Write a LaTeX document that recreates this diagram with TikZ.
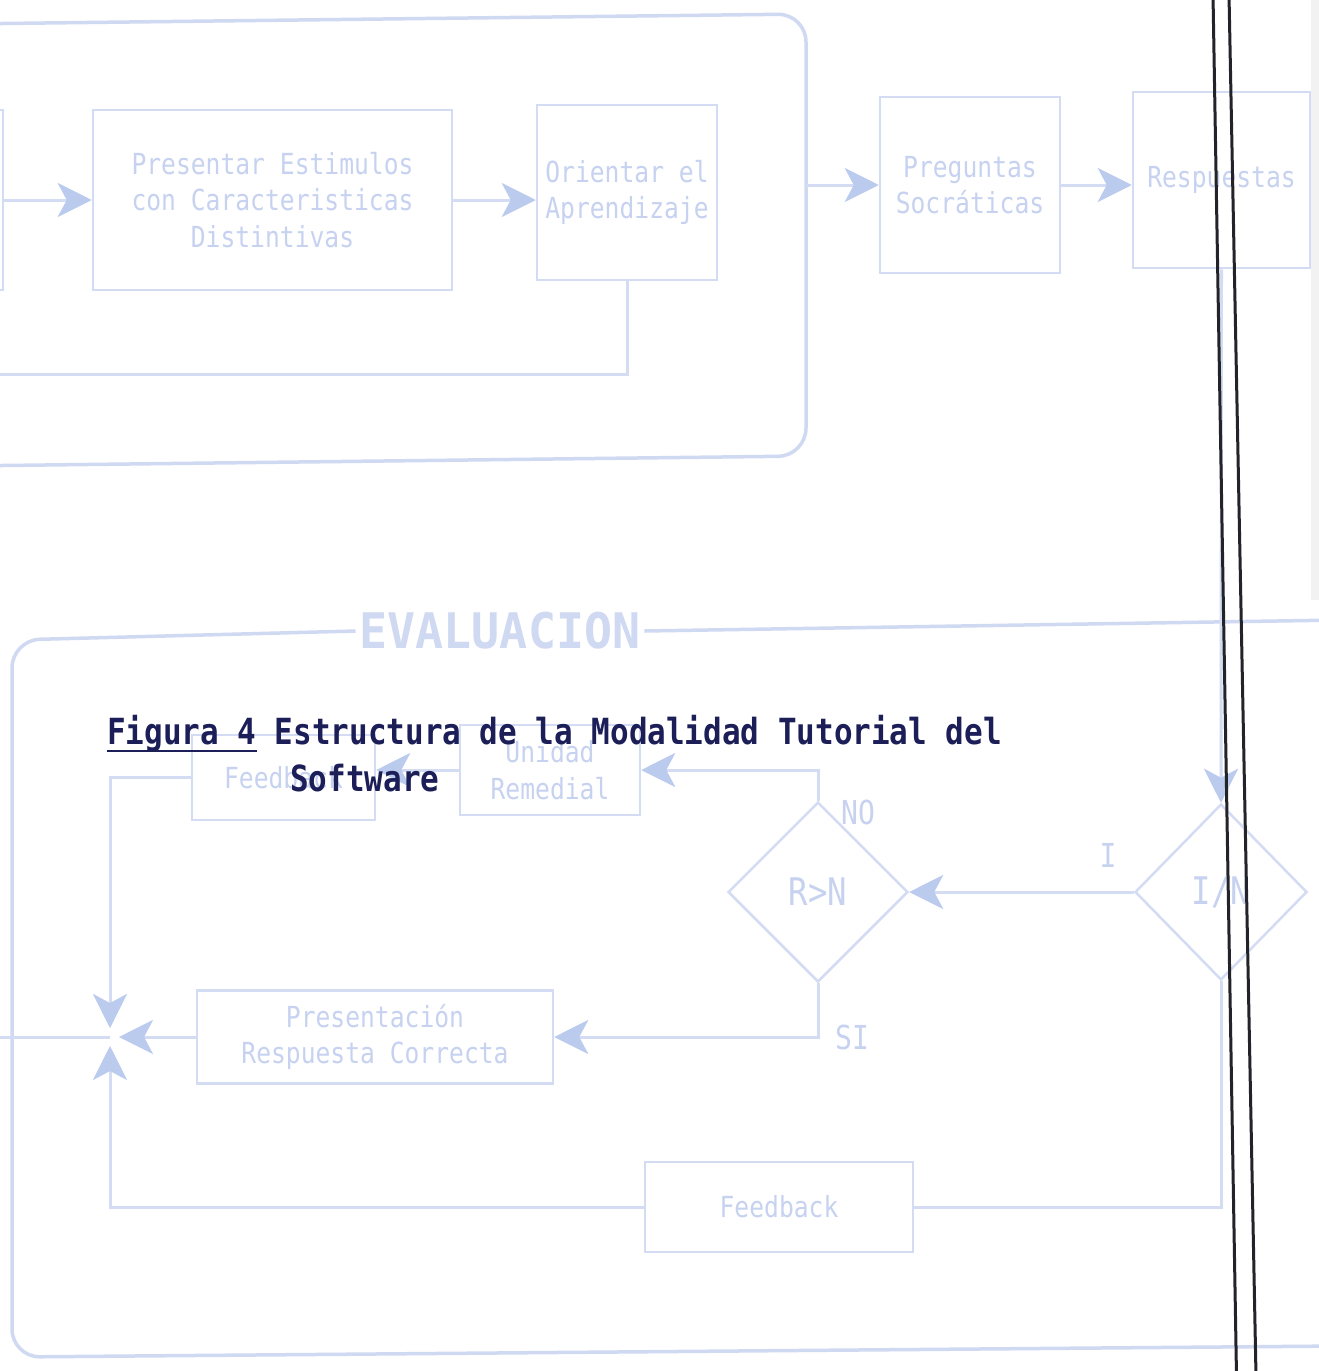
\documentclass[tikz,border=0pt]{standalone}
\usepackage{fontspec}
\usetikzlibrary{arrows.meta,shapes.geometric}
\newfontfamily\fadefam{DejaVu Sans Mono}[FakeStretch=0.85]
\newfontfamily\evalfam{DejaVu Sans Mono Bold}[FakeStretch=0.95]
\newfontfamily\capfam{DejaVu Sans Mono Bold}[FakeStretch=0.86]
\definecolor{linec}{RGB}{212,220,243}
\definecolor{textc}{RGB}{198,210,240}
\definecolor{arrowc}{RGB}{186,203,238}
\definecolor{framec}{RGB}{208,217,242}
\definecolor{capc}{RGB}{28,30,88}
\definecolor{blk}{RGB}{35,35,42}
\tikzset{
  fbox/.style={draw=linec, line width=2.5pt, text=textc, align=center, inner sep=0pt,
    font=\fadefam\fontsize{29}{36.5}\selectfont},
  dbox/.style={diamond, draw=linec, line width=2.5pt, text=textc, inner sep=0pt,
    font=\fadefam\fontsize{38}{40}\selectfont},
  conn/.style={draw=linec, line width=3pt},
  arr/.style={conn, -{Stealth[length=34pt,width=34pt,inset=9pt,color=arrowc]}},
  jarr/.style={arr, shorten >=9pt},
  frame/.style={draw=framec, line width=3.5pt, rounded corners=28pt},
  lbl/.style={text=textc, inner sep=0pt, font=\fadefam\fontsize{33}{36}\selectfont},
  captxt/.style={text=capc, inner sep=0pt, anchor=base west, font=\capfam\fontsize{36}{40}\selectfont},
  blackline/.style={draw=blk, line width=3pt}
}
\begin{document}
\begin{tikzpicture}[x=1pt,y=-1pt]
\useasboundingbox (0,0) rectangle (1319,1371);
\clip (0,0) rectangle (1319,1371);
\fill[white] (0,0) rectangle (1319,1371);
\fill[black!5] (1311,0) rectangle (1319,600);

% ---- upper section ----
\draw[frame] (-40,24) -- (806,14) -- (806,456) -- (-40,466);
\node[fbox, minimum width=100pt, minimum height=180pt] (leftbox) at (-47,200) {};
\node[fbox, minimum width=359pt, minimum height=180pt] (pres) at (272.5,200)
  {Presentar Estimulos\\con Caracteristicas\\Distintivas};
\node[fbox, minimum width=180pt, minimum height=175pt] (orient) at (627,192.5)
  {Orientar el\\Aprendizaje};
\node[fbox, minimum width=180pt, minimum height=176pt] (preg) at (970,185)
  {Preguntas\\Socráticas};
\node[fbox, minimum width=177pt, minimum height=176pt] (resp) at (1221.5,180)
  {Respuestas};
\coordinate (outL) at (0,374);
\coordinate (frameR) at (806,185);

\draw[arr] (leftbox.east) -- (pres.west);
\draw[arr] (pres.east) -- (pres.east -| orient.west);
\draw[conn] (orient.south) |- (outL);
\draw[arr] (frameR) -- (frameR -| preg.west);
\draw[arr] (preg.east) -- (preg.east -| resp.west);

% ---- lower section ----
\node[text=framec, inner sep=4pt, font=\evalfam\fontsize{49}{52}\selectfont] (evl) at (500,631) {EVALUACION};
\draw[frame] (evl.west) -- (12,640) -- (12,1357) -- (1340,1346);
\draw[frame] (evl.east) -- (1340,620);

\node[fbox, minimum width=183pt, minimum height=85pt] (fb1) at (283.5,777.5) {Feedback};
\node[fbox, minimum width=180pt, minimum height=90pt] (unid) at (550,770) {Unidad\\Remedial};
\node[dbox, minimum width=180pt, minimum height=180pt] (rn) at (818,892) {R>N};
\node[dbox, minimum width=172pt, minimum height=176pt] (in) at (1221,892) {I/N};
\node[fbox, minimum width=356pt, minimum height=93pt] (prc) at (375,1037)
  {Presentación\\Respuesta Correcta};
\node[fbox, minimum width=268pt, minimum height=90pt] (fb2) at (779,1207) {Feedback};
\coordinate (J) at (110,1037);
\coordinate (outJ) at (0,1037);

\node[lbl] (no) at (858,812) {NO};
\node[lbl] (si) at (852,1037) {SI};
\node[lbl] (ilbl) at (1108,855) {I};

\draw[arr] (resp.south) -- (in.north);
\draw[arr] (in.west) -- (rn.east);
\draw[arr] (rn.north) |- (unid.east);
\draw[arr] (unid.west) -- (unid.west -| fb1.east);
\draw[jarr] (fb1.west) -| (J);
\draw[arr] (rn.south) |- (prc.east);
\draw[jarr] (prc.west) -- (J);
\draw[conn] (in.south) |- (fb2.east);
\draw[jarr] (fb2.west) -| (J);
\draw[conn] (J) -- (outJ);

% ---- overprinted caption ----
\node[captxt] (cap1) at (107,744) {Figura 4 Estructura de la Modalidad Tutorial del};
\node[captxt] (cap2) at (290,791) {Software};
\coordinate (ulA) at (107,751);
\coordinate (ulB) at (257,751);
\draw[capc, line width=2.5pt] (ulA) -- (ulB);

% ---- black double line ----
\draw[blackline] (1213,-5) -- (1236.5,1376);
\draw[blackline] (1229,-5) -- (1256,1376);
\end{tikzpicture}
\end{document}
